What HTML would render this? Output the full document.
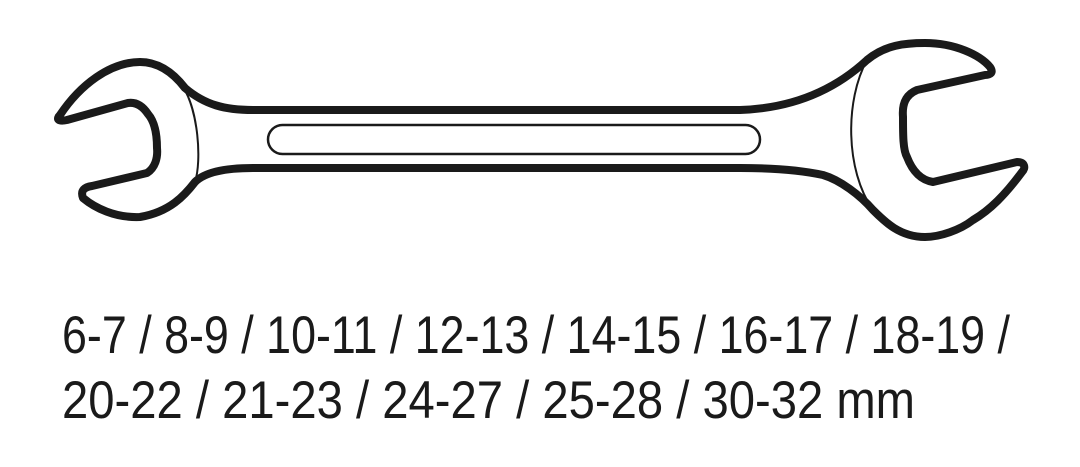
<!DOCTYPE html>
<html><head><style>html,body{margin:0;padding:0;background:#fff;}svg{display:block;}</style></head>
<body>
<svg width="1080" height="467" viewBox="0 0 1080 467" xmlns="http://www.w3.org/2000/svg">
<g fill="#fff" stroke="#1a1a1a" stroke-width="8" stroke-linejoin="round" stroke-linecap="round">
<path d="M60,115 C80,85 110,62 140,62 C160,62 175,75 185,88 C205,105 225,110 253,110 L740,110 C800,108 840,85 867,60 C885,45 905,43 925,43 C955,43 980,55 990,67 C994,73 990,75 985,75 L917,90 C905,95 902,105 903,117 C903,135 903,150 907,157 C912,170 920,180 933,182 L1017,162 C1025,162 1026,168 1022,172 C1005,195 990,210 973,220 C960,230 940,237 925,237 C900,237 885,222 873,210 C860,195 840,180 823,175 C800,170 770,168 740,168 L253,168 C225,168 205,172 195,182 C185,195 170,212 140,217 C115,218 95,208 83,198 C80,190 85,187 92,186 L147,173 C155,168 158,158 157,148 C157,135 155,122 148,114 C142,105 135,102 128,103 L67,120 C58,122 56,119 60,115 Z"/>
</g>
<g fill="none" stroke="#1a1a1a" stroke-width="2">
<path d="M183,87 C198,110 202,160 195,182"/>
<path d="M867,60 C845,100 845,170 873,210"/>
<rect x="268" y="125" width="492" height="29" rx="14.5" stroke-width="2.5"/>
</g>
<g font-family="'Liberation Sans', sans-serif" font-size="53" fill="#1a1a1a">
<text x="62" y="353" textLength="948" lengthAdjust="spacingAndGlyphs">6-7 / 8-9 / 10-11 / 12-13 / 14-15 / 16-17 / 18-19 /</text>
<text x="62" y="418" textLength="853" lengthAdjust="spacingAndGlyphs">20-22 / 21-23 / 24-27 / 25-28 / 30-32 mm</text>
</g>
</svg>
</body></html>
